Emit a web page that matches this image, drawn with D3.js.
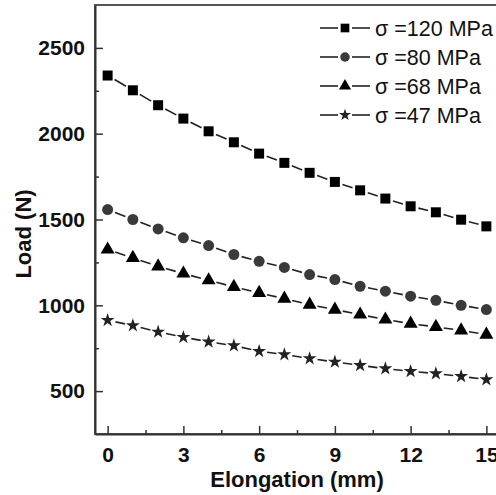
<!DOCTYPE html>
<html>
<head>
<meta charset="utf-8">
<script src="https://cdn.jsdelivr.net/npm/d3@7"></script>
<style>
  html, body { margin: 0; padding: 0; background: #fff; }
  svg { display: block; }
</style>
</head>
<body>
<div id="chart"></div>
<script>
const elongation = [0, 1, 2, 3, 4, 5, 6, 7, 8, 9, 10, 11, 12, 13, 14, 15];
const load120 = [2339, 2253, 2166, 2088, 2014, 1950, 1884, 1830, 1772, 1719, 1670, 1622, 1577, 1542, 1499, 1460];
const load80 = [1558, 1500, 1445, 1393, 1348, 1296, 1256, 1221, 1179, 1150, 1111, 1082, 1053, 1029, 1000, 975];
const load68 = [1325, 1276, 1227, 1185, 1146, 1107, 1072, 1039, 1004, 975, 946, 917, 893, 874, 854, 829];
const load47 = [913, 882, 845, 814, 787, 765, 732, 713, 690, 670, 650, 631, 615, 602, 586, 567];
const seriesNames = ['\u03c3 =120 MPa', '\u03c3 =80 MPa', '\u03c3 =68 MPa', '\u03c3 =47 MPa'];
const xTicks = [0, 3, 6, 9, 12, 15];
const xMinor = [1.5, 4.5, 7.5, 10.5, 13.5];
const yTicks = [500, 1000, 1500, 2000, 2500];
const yMinor = [750, 1250, 1750, 2250];

const W = 496, H = 495;
const plotLeft = 95, plotRight = 499, plotTop = 5, plotBottom = 434;

const svg = d3.select('#chart').append('svg')
  .attr('width', W).attr('height', H);

const x = d3.scaleLinear().domain([-0.5, 15.5]).range([plotLeft, plotRight]);
const y = d3.scaleLinear().domain([250, 2750]).range([plotBottom, plotTop]);

const font = "'Liberation Sans', Arial, sans-serif";
const axisColor = '#333';

// frame
svg.append('rect')
  .attr('x', plotLeft).attr('y', plotTop)
  .attr('width', plotRight - plotLeft).attr('height', plotBottom - plotTop)
  .attr('fill', 'none').attr('stroke', '#555').attr('stroke-width', 2);

function styleAxis(g) {
  g.select('.domain').attr('stroke', axisColor).attr('stroke-width', 2);
  g.selectAll('.tick line').attr('stroke', axisColor).attr('stroke-width', 1.5);
  g.selectAll('.tick text')
    .attr('fill', '#111')
    .style('font-family', font).style('font-weight', 'bold').style('font-size', '21px');
}

// X axis
svg.append('g')
  .attr('transform', `translate(0,${plotBottom})`)
  .call(d3.axisBottom(x).tickValues(xTicks).tickFormat(d3.format('d'))
    .tickSizeInner(-8).tickSizeOuter(0).tickPadding(13))
  .call(styleAxis);
svg.append('g')
  .attr('transform', `translate(0,${plotBottom})`)
  .call(d3.axisBottom(x).tickValues(xMinor).tickSizeInner(-4).tickSizeOuter(0).tickFormat(''))
  .call(styleAxis)
  .call(g => g.select('.domain').remove());

// Y axis
svg.append('g')
  .attr('transform', `translate(${plotLeft},0)`)
  .call(d3.axisLeft(y).tickValues(yTicks).tickFormat(d3.format('d'))
    .tickSizeInner(-8).tickSizeOuter(0).tickPadding(10))
  .call(styleAxis);
svg.append('g')
  .attr('transform', `translate(${plotLeft},0)`)
  .call(d3.axisLeft(y).tickValues(yMinor).tickSizeInner(-4).tickSizeOuter(0).tickFormat(''))
  .call(styleAxis)
  .call(g => g.select('.domain').remove());

// axis titles
svg.append('text')
  .attr('x', (x(0) + x(15)) / 2).attr('y', 487)
  .attr('text-anchor', 'middle')
  .style('font-family', font).style('font-weight', 'bold').style('font-size', '22px')
  .attr('fill', '#111')
  .text('Elongation (mm)');

svg.append('text')
  .attr('transform', `translate(31,234) rotate(-90)`)
  .attr('text-anchor', 'middle')
  .style('font-family', font).style('font-weight', 'bold').style('font-size', '22px')
  .attr('fill', '#111')
  .text('Load (N)');

const series = [
  { name: seriesNames[0], values: load120, symbol: d3.symbolSquare, size: 100, color: '#000' },
  { name: seriesNames[1], values: load80, symbol: d3.symbolCircle, size: 95, color: '#3a3a3a' },
  { name: seriesNames[2], values: load68, symbol: d3.symbolTriangle, size: 85, color: '#000' },
  { name: seriesNames[3], values: load47, symbol: d3.symbolStar, size: 60, color: '#222' }
];

const gap = 8;
series.forEach(s => {
  const pts = elongation.map((e, i) => [x(e), y(s.values[i])]);
  const g = svg.append('g');
  // segments trimmed near markers
  for (let i = 0; i < pts.length - 1; i++) {
    const [x1, y1] = pts[i], [x2, y2] = pts[i + 1];
    const len = Math.hypot(x2 - x1, y2 - y1);
    const ux = (x2 - x1) / len, uy = (y2 - y1) / len;
    g.append('line')
      .attr('x1', x1 + ux * gap).attr('y1', y1 + uy * gap)
      .attr('x2', x2 - ux * gap).attr('y2', y2 - uy * gap)
      .attr('stroke', '#222').attr('stroke-width', 1.6);
  }
  g.selectAll('path')
    .data(pts)
    .enter().append('path')
    .attr('transform', d => `translate(${d[0]},${d[1]})`)
    .attr('d', d3.symbol().type(s.symbol).size(s.size))
    .attr('fill', s.color);
});

// legend
const legend = svg.append('g');
series.forEach((s, i) => {
  const cy = 28 + i * 29;
  const row = legend.append('g');
  row.append('line').attr('x1', 320).attr('x2', 338).attr('y1', cy).attr('y2', cy)
    .attr('stroke', '#222').attr('stroke-width', 1.6);
  row.append('line').attr('x1', 352).attr('x2', 370).attr('y1', cy).attr('y2', cy)
    .attr('stroke', '#222').attr('stroke-width', 1.6);
  row.append('path')
    .attr('transform', `translate(345,${cy})`)
    .attr('d', d3.symbol().type(s.symbol).size(s.size * 0.75))
    .attr('fill', s.color);
  row.append('text')
    .attr('x', 375).attr('y', cy).attr('dy', '0.36em')
    .style('font-family', font).style('font-size', '21.5px')
    .attr('fill', '#111')
    .text(s.name);
});
</script>
</body>
</html>
